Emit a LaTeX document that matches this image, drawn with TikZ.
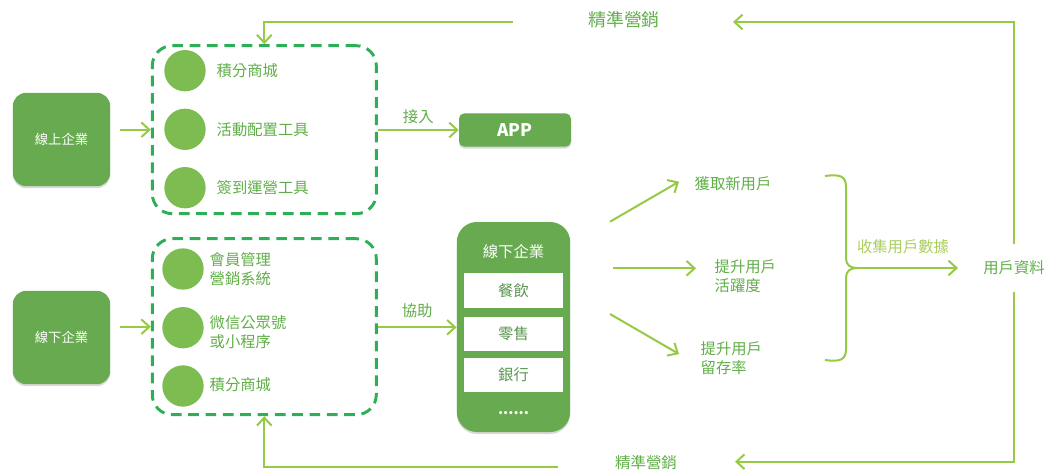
\documentclass[tikz,border=0pt]{standalone}
\usepackage{fontspec}
\setmainfont{Noto Sans CJK TC}
\usetikzlibrary{arrows.meta}
\usetikzlibrary{shadows}

\definecolor{boxgreen}{RGB}{104,170,80}
\definecolor{dotgreen}{RGB}{125,188,80}
\definecolor{dashgreen}{RGB}{45,175,88}
\definecolor{arrowgreen}{RGB}{150,201,68}
\definecolor{lightgreen}{RGB}{170,205,95}
\definecolor{textgreen}{RGB}{96,174,72}
\definecolor{graygreen}{RGB}{92,150,82}

\tikzset{
  arr/.style={draw=arrowgreen, line width=1.5pt, -{Straight Barb[length=6pt,width=11pt,line width=1.5pt]}},
  firm/.style={fill=boxgreen, rounded corners=10pt, text=white, font=\fontsize{10}{12}\selectfont,
    drop shadow={shadow xshift=0pt, shadow yshift=-1.5pt, opacity=.3}},
  grp/.style={draw=dashgreen, line width=2.2pt, dash pattern=on 8pt off 5pt, rounded corners=15pt,
    minimum width=168pt},
  dot/.style={circle, fill=dotgreen, minimum size=31pt, inner sep=0pt},
  lbl/.style={text=textgreen, font=\fontsize{11.5}{14.3}\selectfont, align=left},
  sector/.style={fill=white, minimum width=74pt, minimum height=26pt, text=graygreen,
    font=\fontsize{11.5}{14}\selectfont}
}

\begin{document}
\begin{tikzpicture}[x=0.75pt,y=0.75pt,yscale=-1,xscale=1]
\useasboundingbox (0,0) rectangle (1045,472);

%Left firms
\node[firm, minimum width=73pt, minimum height=70pt] (online) at (61.5,139.5) {線上企業};
\node[firm, minimum width=73pt, minimum height=70pt] (offline) at (61.5,337.5) {線下企業};

%Dashed groups
\node[grp, minimum height=126pt] (grpon) at (264.3,129.7) {};
\node[grp, minimum height=132pt] (grpoff) at (264.3,326.7) {};

%Online tools
\foreach \y/\n in {70.7/a,129.3/b,187.7/c}
  \node[dot] (on\n) at (185,\y) {};
\node[lbl, anchor=west] (ptsa) at (212,70.7) {積分商城};
\node[lbl, anchor=west] (event) at (212,129.3) {活動配置工具};
\node[lbl, anchor=west] (signin) at (212,187.7) {簽到運營工具};

%Offline tools
\foreach \y/\n in {269/a,327.7/b,386/c}
  \node[dot] (off\n) at (183,\y) {};
\node[lbl, anchor=west] (member) at (205,269) {會員管理\\營銷系統};
\node[lbl, anchor=west] (wechat) at (205,332.2) {微信公眾號\\或小程序};
\node[lbl, anchor=west] (ptsb) at (205,385) {積分商城};

\draw[arr] ([xshift=7.5pt]online.east |- grpon.west) -- (grpon.west);
\draw[arr] ([xshift=7.5pt]offline.east |- grpoff.west) -- (grpoff.west);

%APP
\node[firm, rounded corners=4pt, minimum width=84pt, minimum height=25pt,
  font=\fontsize{13}{15}\selectfont\bfseries] (app) at (515,130) {APP};
\draw[arr] (grpon.east |- app.west) -- (app.west) node[midway, above=1pt, lbl] (join) {接入};

%Offline firm card
\node[firm, rounded corners=15pt, minimum width=85pt, minimum height=157.5pt] (card) at (513.5,327) {};
\node[text=white, font=\fontsize{11.5}{14}\selectfont] (cardtitle) at (513.5,251.5) {線下企業};
\node[sector] (food) at (513.5,290.5) {餐飲};
\node[sector] (retail) at (513.5,334) {零售};
\node[sector] (bank) at (513.5,375) {銀行};
\node[text=white, font=\fontsize{11}{12}\selectfont\bfseries] (more) at (513.5,413) {......};
\draw[arr] (grpoff.east |- 0,327.3) -- (card.west |- 0,327.3) node[midway, above=3pt, lbl] (assist) {協助};

%Outcomes
\coordinate (s1) at (610,221.7);
\coordinate (e1) at (679,181.7);
\coordinate (s2) at (612.7,268.3);
\coordinate (e2) at (696,268.3);
\coordinate (s3) at (610,314);
\coordinate (e3) at (679,354);
\draw[arr] (s1) -- (e1);
\draw[arr] (s2) -- (e2);
\draw[arr] (s3) -- (e3);
\node[lbl, anchor=west] (newuser) at (690,183.3) {獲取新用戶};
\node[lbl, anchor=west] (active) at (710,276.3) {提升用戶\\活躍度};
\node[lbl, anchor=west] (retain) at (696,358.5) {提升用戶\\留存率};

%Brace
\coordinate (brtip) at (857,268);
\draw[draw=arrowgreen, line width=1.5pt] (825,176) .. controls (840,174) and (846,176) .. (846,187) -- (846,258)
  .. controls (846,265) and (850,268) .. (brtip)
  .. controls (850,268) and (846,271) .. (846,278) -- (846,349)
  .. controls (846,360) and (840,362) .. (825,360);
\coordinate (collect) at (958,268);
\draw[arr] (brtip) -- (collect);
\node[text=lightgreen, font=\fontsize{11.5}{14}\selectfont] (gather) at (903,246.7) {收集用戶數據};

%User data and feedback
\node[lbl, minimum height=36pt, inner xsep=0pt] (data) at (1014,268) {用戶資料};
\coordinate (topend) at (733,22);
\coordinate (topstart) at (513,22);
\coordinate (botend) at (735,461.7);
\coordinate (botstart) at (558,466.7);
\draw[arr] (data.north) |- (topend);
\draw[arr] (data.south) |- (botend);
\node[text=textgreen, font=\fontsize{13.4}{15}\selectfont] (mkttop) at (624,20) {精準營銷};
\node[text=textgreen, font=\fontsize{11.6}{14}\selectfont] (mktbot) at (646,463) {精準營銷};
\draw[arr] (topstart) -| (grpon.north);
\draw[arr] (botstart) -| (grpoff.south);

\end{tikzpicture}
\end{document}
